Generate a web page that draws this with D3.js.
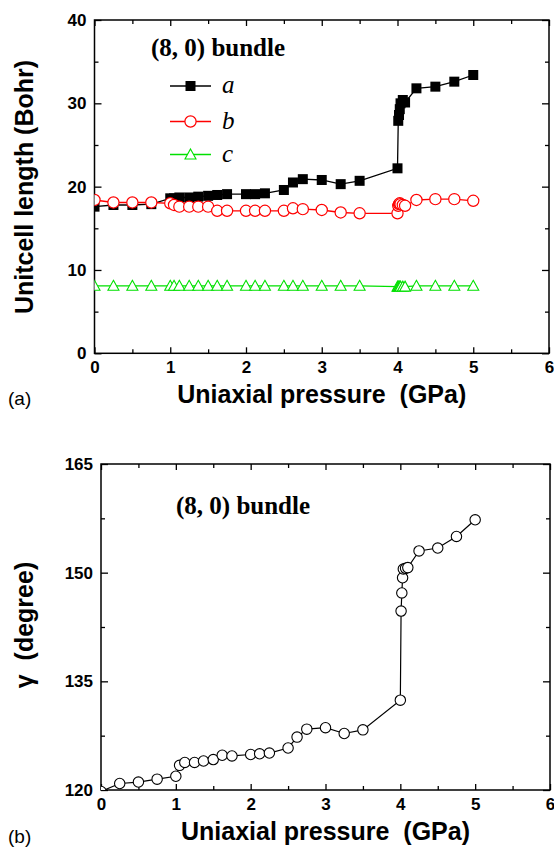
<!DOCTYPE html>
<html>
<head>
<meta charset="utf-8">
<script src="https://cdn.jsdelivr.net/npm/d3@7"></script>
<style>
  html, body { margin: 0; padding: 0; background: #fff; }
  svg { display: block; }
  .tick text { font-family: "Liberation Sans", Arial, sans-serif; font-weight: bold; font-size: 17px; fill: #000; }
  .axis path { display: none; }
  .axis line { stroke: #000; stroke-width: 1.3; }
</style>
</head>
<body>
<svg id="fig" width="554" height="848"></svg>
<script>
// Uniaxial pressure (GPa) at which each structure was relaxed
const pressure = [0, 0.25, 0.5, 0.75, 1.0, 1.05, 1.12, 1.25, 1.37, 1.5, 1.62, 1.75,
  2.0, 2.12, 2.25, 2.5, 2.62, 2.75, 3.0, 3.25, 3.5, 4.0, 4.01, 4.02, 4.03, 4.04,
  4.07, 4.1, 4.25, 4.5, 4.75, 5.0];

// Unit-cell lattice lengths a, b, c (Bohr) of the (8, 0) bundle
const latticeA = [17.6, 17.8, 17.8, 17.9, 18.6, 18.6, 18.7, 18.7, 18.8, 18.9, 19.0, 19.1,
  19.1, 19.1, 19.2, 19.6, 20.5, 20.9, 20.8, 20.3, 20.7, 22.2, 27.9, 28.6, 29.3, 30.0,
  30.4, 30.1, 31.8, 32.0, 32.6, 33.4];
const latticeB = [18.4, 18.1, 18.1, 18.1, 18.0, 17.8, 17.6, 17.6, 17.6, 17.6, 17.1, 17.1,
  17.1, 17.1, 17.1, 17.1, 17.4, 17.3, 17.2, 16.9, 16.8, 16.8, 17.7, 17.9, 18.0, 17.9,
  17.8, 17.7, 18.4, 18.5, 18.5, 18.3];
const latticeC = [8.1, 8.1, 8.1, 8.1, 8.1, 8.1, 8.1, 8.1, 8.1, 8.1, 8.1, 8.1,
  8.1, 8.1, 8.1, 8.1, 8.1, 8.1, 8.1, 8.1, 8.1, 8.0, 8.0, 8.0, 8.0, 8.0,
  8.0, 8.0, 8.1, 8.1, 8.1, 8.1];

// Angle gamma (degree) between the in-plane lattice vectors
const gammaAngle = [119.8, 120.9, 121.1, 121.5, 121.9, 123.4, 123.8, 123.8, 124.0, 124.2, 124.8, 124.7,
  124.9, 125.0, 125.1, 125.8, 127.3, 128.4, 128.6, 127.8, 128.3, 132.4, 144.7, 147.2, 149.3, 150.5,
  150.6, 150.7, 153.0, 153.4, 155.0, 157.3];

// Tick values
const xTicks = [0, 1, 2, 3, 4, 5, 6];
const xMinorTicks = [0.5, 1.5, 2.5, 3.5, 4.5, 5.5];
const lengthTicks = [0, 10, 20, 30, 40];
const lengthMinorTicks = [5, 15, 25, 35];
const gammaTicks = [120, 135, 150, 165];
const gammaMinorTicks = [127.5, 142.5, 157.5];

const legendItems = [
  { key: "a", values: latticeA, color: "#000000", marker: "square" },
  { key: "b", values: latticeB, color: "#ff0000", marker: "circle" },
  { key: "c", values: latticeC, color: "#00e000", marker: "triangle" }
];

const svg = d3.select("#fig");
const SANS = "'Liberation Sans', Arial, sans-serif";
const SERIF = "'Liberation Serif', 'Times New Roman', serif";

function drawMarker(g, kind, color, cx, cy) {
  if (kind === "square") {
    g.append("rect").attr("x", cx - 5).attr("y", cy - 5).attr("width", 10).attr("height", 10)
      .attr("fill", color).attr("stroke", "none");
  } else if (kind === "circle") {
    g.append("circle").attr("cx", cx).attr("cy", cy).attr("r", 5.6)
      .attr("fill", "#fff").attr("stroke", color).attr("stroke-width", 1.2);
  } else if (kind === "triangle") {
    const w = 11, h = 10;
    g.append("path")
      .attr("d", `M${cx},${cy - h * 0.55}L${cx + w / 2},${cy + h * 0.45}L${cx - w / 2},${cy + h * 0.45}Z`)
      .attr("fill", "#fff").attr("stroke", color).attr("stroke-width", 1.1);
  } else if (kind === "circleBlack") {
    g.append("circle").attr("cx", cx).attr("cy", cy).attr("r", 5.2)
      .attr("fill", "#fff").attr("stroke", color).attr("stroke-width", 1.1);
  }
}

function panel(opts) {
  const { left, right, top, bottom, yDomain, yTicks, yMinor, id } = opts;
  const x = d3.scaleLinear().domain([0, 6]).range([left, right]);
  const y = d3.scaleLinear().domain(yDomain).range([bottom, top]);
  const g = svg.append("g");

  // major / minor ticks on all four sides, pointing inward
  const addAxis = (axis, tx, ty, cls) => g.append("g").attr("class", "axis " + (cls || ""))
    .attr("transform", `translate(${tx},${ty})`).call(axis);

  addAxis(d3.axisBottom(x).tickValues(xTicks).tickSize(-6).tickPadding(8).tickFormat(d3.format("d")), 0, bottom);
  addAxis(d3.axisBottom(x).tickValues(xMinorTicks).tickSize(-4).tickFormat(""), 0, bottom);
  addAxis(d3.axisTop(x).tickValues(xTicks).tickSize(-6).tickFormat(""), 0, top);
  addAxis(d3.axisTop(x).tickValues(xMinorTicks).tickSize(-4).tickFormat(""), 0, top);
  addAxis(d3.axisLeft(y).tickValues(yTicks).tickSize(-7).tickPadding(8).tickFormat(d3.format("d")), left, 0);
  addAxis(d3.axisLeft(y).tickValues(yMinor).tickSize(-4).tickFormat(""), left, 0);
  addAxis(d3.axisRight(y).tickValues(yTicks).tickSize(-7).tickFormat(""), right, 0);
  addAxis(d3.axisRight(y).tickValues(yMinor).tickSize(-4).tickFormat(""), right, 0);

  // frame
  g.append("rect").attr("x", left).attr("y", top)
    .attr("width", right - left).attr("height", bottom - top)
    .attr("fill", "none").attr("stroke", "#000").attr("stroke-width", 1.5);

  // clip data to the plotting area
  svg.append("clipPath").attr("id", id).append("rect")
    .attr("x", left).attr("y", top).attr("width", right - left).attr("height", bottom - top);
  const data = g.append("g").attr("clip-path", `url(#${id})`);
  return { x, y, g, data };
}

// ---------- (a) lattice lengths ----------
const pa = panel({ left: 94.5, right: 549, top: 20, bottom: 353.3,
  yDomain: [0, 40], yTicks: lengthTicks, yMinor: lengthMinorTicks, id: "clipA" });

legendItems.forEach(s => {
  const pts = pressure.map((p, i) => [pa.x(p), pa.y(s.values[i])]);
  pa.data.append("path").attr("d", d3.line()(pts))
    .attr("fill", "none").attr("stroke", s.color).attr("stroke-width", 1.3);
  const mg = pa.data.append("g");
  pts.forEach(([cx, cy]) => drawMarker(mg, s.marker, s.color, cx, cy));
});

// legend
const legendY = [86, 121.5, 154.5];
legendItems.forEach((s, i) => {
  const lg = pa.g.append("g");
  lg.append("line").attr("x1", 170).attr("x2", 211).attr("y1", legendY[i]).attr("y2", legendY[i])
    .attr("stroke", s.color).attr("stroke-width", 1.3);
  drawMarker(lg, s.marker, s.color, 190.5, legendY[i]);
  lg.append("text").attr("x", 222).attr("y", legendY[i] + 7)
    .attr("font-family", SERIF).attr("font-style", "italic").attr("font-size", 25)
    .text(s.key);
});

svg.append("text").attr("x", 151).attr("y", 56)
  .attr("font-family", SERIF).attr("font-weight", "bold").attr("font-size", 25)
  .text("(8, 0) bundle");

svg.append("text").attr("x", (94.5 + 549) / 2).attr("y", 403).attr("text-anchor", "middle")
  .attr("font-family", SANS).attr("font-weight", "bold").attr("font-size", 25)
  .style("white-space", "pre").text("Uniaxial pressure  (GPa)");

svg.append("text").attr("transform", `translate(33,187) rotate(-90)`).attr("text-anchor", "middle")
  .attr("font-family", SANS).attr("font-weight", "bold").attr("font-size", 25)
  .text("Unitcell length (Bohr)");

svg.append("text").attr("x", 8).attr("y", 405)
  .attr("font-family", SANS).attr("font-size", 19).text("(a)");

// ---------- (b) angle gamma ----------
const pb = panel({ left: 101, right: 550, top: 464, bottom: 790,
  yDomain: [120, 165], yTicks: gammaTicks, yMinor: gammaMinorTicks, id: "clipB" });

{
  const pts = pressure.map((p, i) => [pb.x(p), pb.y(gammaAngle[i])]);
  pb.data.append("path").attr("d", d3.line()(pts))
    .attr("fill", "none").attr("stroke", "#000").attr("stroke-width", 1.2);
  const mg = pb.data.append("g");
  pts.forEach(([cx, cy]) => drawMarker(mg, "circleBlack", "#000", cx, cy));
}

svg.append("text").attr("x", 176).attr("y", 514)
  .attr("font-family", SERIF).attr("font-weight", "bold").attr("font-size", 25)
  .text("(8, 0) bundle");

svg.append("text").attr("x", (101 + 550) / 2).attr("y", 840).attr("text-anchor", "middle")
  .attr("font-family", SANS).attr("font-weight", "bold").attr("font-size", 25)
  .style("white-space", "pre").text("Uniaxial pressure  (GPa)");

svg.append("text").attr("transform", `translate(33,625) rotate(-90)`).attr("text-anchor", "middle")
  .attr("font-family", SANS).attr("font-weight", "bold").attr("font-size", 25)
  .style("white-space", "pre").text("γ  (degree)");

svg.append("text").attr("x", 8).attr("y", 843)
  .attr("font-family", SANS).attr("font-size", 19).text("(b)");
</script>
</body>
</html>
